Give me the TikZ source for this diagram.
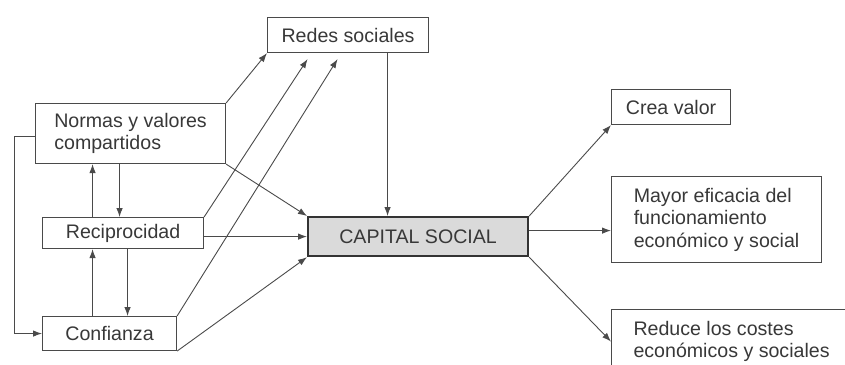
\documentclass[tikz,border=0pt]{standalone}
\usepackage{fontspec}
\setmainfont{Liberation Sans}
\usetikzlibrary{arrows.meta}
\definecolor{linea}{HTML}{4A4A4A}
\definecolor{texto}{HTML}{383838}
\definecolor{relleno}{HTML}{DADADA}

\begin{document}
\begin{tikzpicture}[
    x=1pt, y=-1pt,
    cuadro/.style={draw=linea, line width=1.1pt, text=texto, inner sep=0pt,
      anchor=north west, align=left, font=\fontsize{19.6}{22.5}\selectfont},
    flecha/.style={draw=linea, line width=0.9pt, -{Latex[length=9pt,width=6.5pt]}}
  ]
  \useasboundingbox (0,0) rectangle (845,364);

  % cajas
  \node[cuadro, minimum width=161pt, minimum height=35pt] (redes) at (267,17) {Redes sociales};
  \node[cuadro, minimum width=190pt, minimum height=60pt] (normas) at (35,103) {Normas y valores\\compartidos};
  \node[cuadro, minimum width=161pt, minimum height=31pt] (recip) at (42,217) {Reciprocidad};
  \node[cuadro, minimum width=134pt, minimum height=34pt] (confianza) at (42,316) {Confianza};
  \node[cuadro, minimum width=220pt, minimum height=39pt, fill=relleno,
    draw=black!80, line width=2.2pt] (capital) at (307,216) {CAPITAL SOCIAL};
  \node[cuadro, minimum width=119pt, minimum height=35pt] (crea) at (611,89) {Crea valor};
  \node[cuadro, minimum width=210pt, minimum height=86pt] (mayor) at (611,176)
    {Mayor eficacia del\\funcionamiento\\económico y social};
  \node[cuadro, minimum width=240pt, minimum height=64pt] (reduce) at (611,309)
    {Reduce los costes\\económicos y sociales};

  % extremos libres bajo redes
  \coordinate (r1) at ([xshift=-40.5pt,yshift=-6pt]redes.south);
  \coordinate (r2) at ([xshift=-10.5pt,yshift=-6pt]redes.south);

  % hacia redes
  \draw[flecha] (normas.north east) -- (redes.south west);
  \draw[flecha] (recip.north east) -- (r1);
  \draw[flecha] (confianza.north east) -- (r2);

  % hacia capital
  \draw[flecha] ([xshift=39.5pt]redes.south) -- ([xshift=39.5pt]redes.south |- capital.north);
  \draw[flecha] (normas.south east) -- (capital.north west);
  \draw[flecha] (recip.east |- capital.west) -- (capital.west);
  \draw[flecha] (confianza.south east) -- (capital.south west);

  % entre normas, reciprocidad y confianza
  \draw[flecha] ([xshift=-11pt]normas.south) -- ([xshift=-11pt]normas.south |- recip.north);
  \draw[flecha] ([xshift=-38pt]normas.south |- recip.north) -- ([xshift=-38pt]normas.south);
  \draw[flecha] ([xshift=18pt]confianza.north |- recip.south) -- ([xshift=18pt]confianza.north);
  \draw[flecha] ([xshift=-17pt]confianza.north) -- ([xshift=-17pt]confianza.north |- recip.south);
  \draw[flecha] ([yshift=-3pt]normas.west) -- ++(-21,0) |- (confianza.west);

  % resultados
  \draw[flecha] (capital.north east) -- (crea.south west);
  \draw[flecha] ([yshift=6pt]capital.east) -- ([yshift=6pt]capital.east -| mayor.west);
  \draw[flecha] (capital.south east) -- (reduce.west);
\end{tikzpicture}
\end{document}
